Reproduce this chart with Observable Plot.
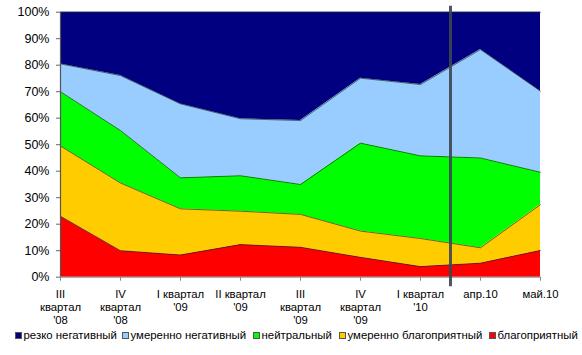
<!DOCTYPE html>
<html>
<head>
<meta charset="utf-8">
<script src="https://cdn.jsdelivr.net/npm/d3@7"></script>
<script src="https://cdn.jsdelivr.net/npm/@observablehq/plot@0.6"></script>
<style>
  body { margin: 0; background: #fff; font-family: "Liberation Sans", Arial, sans-serif; }
  #chart svg { display: block; }
  #legend { position: relative; height: 16px; margin-top: 1px; font-size: 11.4px; color: #000; white-space: nowrap; }
  #legend .item { position: absolute; top: 0; display: flex; align-items: center; height: 16px; }
  #legend .sw { width: 5px; height: 5px; border: 0.8px solid #555; margin-right: 1.5px; }
</style>
</head>
<body>
<div id="chart"></div>
<div id="legend"></div>
<script>
const categories = ["III\nквартал\n'08", "IV\nквартал\n'08", "I квартал\n'09", "II квартал\n'09", "III\nквартал\n'09", "IV\nквартал\n'09", "I квартал\n'10", "апр.10", "май.10"];
const seriesNames = ["благоприятный", "умеренно благоприятный", "нейтральный", "умеренно негативный", "резко негативный"];
const legendOrder = ["резко негативный", "умеренно негативный", "нейтральный", "умеренно благоприятный", "благоприятный"];
const legendX = [15, 122, 253, 339, 489];
const seriesColors = ["#ff0000", "#ffcc00", "#00ff00", "#99ccff", "#000080"];
const favorable     = [23.0, 10.0,  8.4, 12.3, 11.3,  7.5,  4.0,  5.3, 10.1];
const modFavorable  = [26.5, 25.5, 17.4, 12.6, 12.4,  9.9, 10.6,  5.8, 17.3];
const neutral       = [20.5, 19.8, 11.7, 13.4, 11.3, 33.2, 31.2, 33.9, 12.2];
const modNegative   = [10.5, 20.7, 27.9, 21.5, 24.1, 24.5, 26.9, 40.9, 30.6];
const sharpNegative = [19.5, 23.9, 34.6, 40.2, 40.9, 24.9, 27.3, 14.1, 29.8];
const yTicks = [0, 10, 20, 30, 40, 50, 60, 70, 80, 90, 100];
const separatorAt = [6.5]; // boundary between quarterly and monthly data

const seriesValues = [favorable, modFavorable, neutral, modNegative, sharpNegative];
const data = [];
seriesNames.forEach((name, s) => {
  seriesValues[s].forEach((v, i) => data.push({i, series: name, value: v}));
});

const chart = Plot.plot({
  width: 582,
  height: 326,
  marginLeft: 60,
  marginRight: 42,
  marginTop: 11.7,
  marginBottom: 49.3,
  style: {fontFamily: "Liberation Sans, Arial, sans-serif", color: "#000", background: "#fff"},
  x: {type: "linear", domain: [0, categories.length - 1], label: null},
  y: {domain: [0, 1], label: null},
  color: {domain: seriesNames, range: seriesColors},
  marks: [
    Plot.areaY(data, {x: "i", y: "value", z: "series", fill: "series", offset: "normalize", order: seriesNames}),
    Plot.lineY(data, Plot.stackY2({x: "i", y: "value", z: "series", offset: "normalize", order: seriesNames, stroke: "#1a2a1a", strokeWidth: 0.8, strokeOpacity: 0.8})),
    Plot.ruleX([0], {stroke: "#555", strokeWidth: 1.2}),
    Plot.ruleY([0], {stroke: "#888", strokeWidth: 1}),
    Plot.ruleX(separatorAt, {stroke: "#3c4650", strokeWidth: 3, strokeOpacity: 0.9, insetTop: -6, insetBottom: -9.5}),
    Plot.axisY({ticks: yTicks.map(d => d / 100), tickFormat: d => Math.round(d * 100) + "%", tickSize: 4, tickPadding: 7, fontSize: 12.5, stroke: "#666", anchor: "left", label: null}),
    Plot.axisX({ticks: d3.range(categories.length), tickFormat: i => categories[i], tickSize: 4, tickPadding: 8, fontSize: 11.3, lineHeight: 1.14, stroke: "#888", anchor: "bottom", label: null})
  ]
});
document.getElementById("chart").appendChild(chart);

const legend = document.getElementById("legend");
legendOrder.forEach((name, k) => {
  const item = document.createElement("div");
  item.className = "item";
  item.style.left = legendX[k] + "px";
  const sw = document.createElement("div");
  sw.className = "sw";
  sw.style.background = seriesColors[seriesNames.indexOf(name)];
  item.appendChild(sw);
  const t = document.createElement("span");
  t.textContent = name;
  item.appendChild(t);
  legend.appendChild(item);
});
</script>
</body>
</html>
